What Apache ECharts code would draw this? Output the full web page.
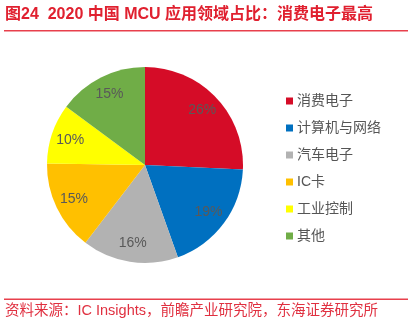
<!DOCTYPE html>
<html><head><meta charset="utf-8">
<script src="https://cdn.jsdelivr.net/npm/echarts@6/dist/echarts.min.js"></script>
<style>html,body{margin:0;padding:0;background:#fff}#c{width:410px;height:329px}</style>
</head><body><div id="c"></div>
<script>
const categories = ['消费电子','计算机与网络','汽车电子','IC卡','工业控制','其他'];
const values = [26,19,16,15,10,15];
const colors = ['#d50c27','#0070c0','#b2b2b2','#ffc000','#ffff00','#70ad47'];
const titleText = '图24  2020 中国 MCU 应用领域占比：消费电子最高';
const sourceText = '资料来源：IC Insights，前瞻产业研究院，东海证券研究所';

const font = '"Liberation Sans", "Noto Sans CJK SC", sans-serif';
const data = categories.map((n,i)=>({name:n,value:values[i],itemStyle:{color:colors[i]}}));
const chart = echarts.init(document.getElementById('c'));
chart.setOption({
  animation:false,
  textStyle:{fontFamily:font},
  legend:{orient:'vertical',left:281,top:89,itemGap:13,icon:'rect',itemWidth:7,itemHeight:7,
    textStyle:{fontSize:14,color:'#555',fontFamily:font,padding:[0,0,0,-1]},data:categories},
  graphic:[
    {type:'text',left:5,top:7,style:{text:titleText,fontSize:16,fontWeight:'bold',fill:'#e0202f',fontFamily:font}},
    {type:'rect',shape:{x:4,y:30,width:404,height:1.5},style:{fill:'#e8404c'}},
    {type:'rect',shape:{x:4,y:298.5,width:404,height:1.5},style:{fill:'#e8404c'}},
    {type:'text',left:5,top:304,style:{text:sourceText,fontSize:14.5,fill:'#e03040',fontFamily:font}}
  ],
  series:[
    {type:'pie',center:[145,165],radius:[0,98],startAngle:90,clockwise:true,data:data,
      label:{show:false},labelLine:{show:false},silent:true},
    {type:'pie',center:[145,165],radius:[52,100],startAngle:90,clockwise:true,
      data:categories.map((n,i)=>({name:n,value:values[i]})),
      itemStyle:{color:'rgba(0,0,0,0)'},legendHoverLink:false,
      label:{show:true,position:'inside',formatter:'{c}%',fontSize:14,color:'#595959',fontFamily:font},
      labelLine:{show:false},silent:true}
  ]
});
</script></body></html>
